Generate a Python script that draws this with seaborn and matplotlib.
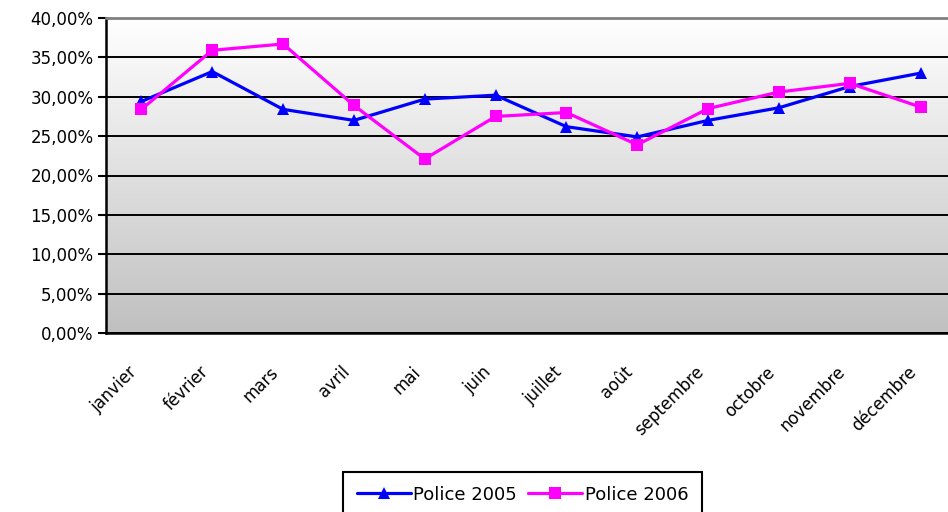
import numpy as np
import pandas as pd
import seaborn as sns
import matplotlib.pyplot as plt
import matplotlib.transforms as mtransforms
from matplotlib.colors import LinearSegmentedColormap
from matplotlib.ticker import FixedLocator, FuncFormatter

# Data (percent)
months = ['janvier', 'février', 'mars', 'avril', 'mai', 'juin', 'juillet',
          'août', 'septembre', 'octobre', 'novembre', 'décembre']
police_2005 = [29.4, 33.2, 28.4, 27.0, 29.7, 30.2, 26.2, 24.9, 27.0, 28.6, 31.3, 33.0]
police_2006 = [28.4, 35.9, 36.7, 28.9, 22.1, 27.5, 28.0, 23.9, 28.5, 30.6, 31.7, 28.7]
series_names = ['Police 2005', 'Police 2006']
y_ticks = [0, 5, 10, 15, 20, 25, 30, 35, 40]


def build_frame():
    pos = list(range(len(months)))
    return pd.DataFrame({
        'pos': pos * 2,
        'mois': months * 2,
        'valeur': police_2005 + police_2006,
        'serie': [series_names[0]] * len(months) + [series_names[1]] * len(months),
    })


def plot_chart(df):
    sns.set_style('white')
    plt.rcParams['font.family'] = ['DejaVu Sans']
    plt.rcParams['text.color'] = 'black'
    plt.rcParams['xtick.color'] = 'black'
    plt.rcParams['ytick.color'] = 'black'
    plt.rcParams['xtick.labelcolor'] = 'black'
    plt.rcParams['ytick.labelcolor'] = 'black'
    fig = plt.figure(figsize=(9.48, 5.12), dpi=100)
    ax = fig.add_axes([106 / 948, 179 / 512, 850 / 948, 315 / 512])

    # grey gradient background of the plot area
    cmap = LinearSegmentedColormap.from_list('bg', ['#ffffff', '#c0c0c0'])
    ax.imshow(np.linspace(0, 1, 256).reshape(-1, 1), extent=[0, 1, 0, 1],
              transform=ax.transAxes, cmap=cmap, aspect='auto', zorder=-5)

    sns.lineplot(data=df, x='pos', y='valeur', hue='serie', style='serie',
                 palette={'Police 2005': '#0000ff', 'Police 2006': '#ff00ff'},
                 markers={'Police 2005': '^', 'Police 2006': 's'},
                 dashes=False, linewidth=2.3, markersize=9, markeredgewidth=0,
                 ax=ax, zorder=3)

    ax.set_xlim(-0.5, len(months) - 0.5)
    ax.set_ylim(0, 40)
    ax.set_xlabel('')
    ax.set_ylabel('')

    ax.yaxis.set_major_locator(FixedLocator(y_ticks))
    ax.yaxis.set_major_formatter(FuncFormatter(lambda v, p: f'{v:.2f}'.replace('.', ',') + '%'))
    ax.yaxis.grid(True, color='black', linewidth=1.4)
    ax.set_axisbelow(True)

    ax.set_xticks(range(len(months)))
    ax.set_xticklabels(months, rotation=45, ha='right', va='center',
                       rotation_mode='anchor')
    ax.set_xticks(np.arange(-0.5, len(months)), minor=True)
    ax.tick_params(axis='x', which='major', length=0, pad=24, labelsize=12,
                   labelcolor='black')
    ax.tick_params(axis='x', which='minor', length=4.5, width=1.5, color='black')
    ax.tick_params(axis='y', length=6, width=1.5, color='black', labelsize=12,
                   pad=3, labelcolor='black')
    ax.tick_params(left=True)
    shift = mtransforms.ScaledTranslation(-7 / 100, -3 / 100, fig.dpi_scale_trans)
    for lab in ax.get_xticklabels():
        lab.set_transform(lab.get_transform() + shift)

    for side in ['left', 'bottom']:
        ax.spines[side].set_color('black')
        ax.spines[side].set_linewidth(1.8)
    ax.spines['top'].set_color('#808080')
    ax.spines['top'].set_linewidth(2)
    ax.spines['right'].set_visible(False)

    handles, labels = ax.get_legend_handles_labels()
    ax.get_legend().remove()
    leg = fig.legend(handles, labels, loc='upper left', ncol=2,
                     bbox_to_anchor=(343 / 948, 1 - 472 / 512), fontsize=13,
                     frameon=True, fancybox=False, edgecolor='black',
                     framealpha=1, handlelength=3.0, handletextpad=0.15,
                     columnspacing=0.6, borderpad=0.75, borderaxespad=0)
    leg.get_frame().set_linewidth(1.5)
    for t in leg.get_texts():
        t.set_color('black')

    fig.savefig('out.png', dpi=100)


if __name__ == '__main__':
    plot_chart(build_frame())
